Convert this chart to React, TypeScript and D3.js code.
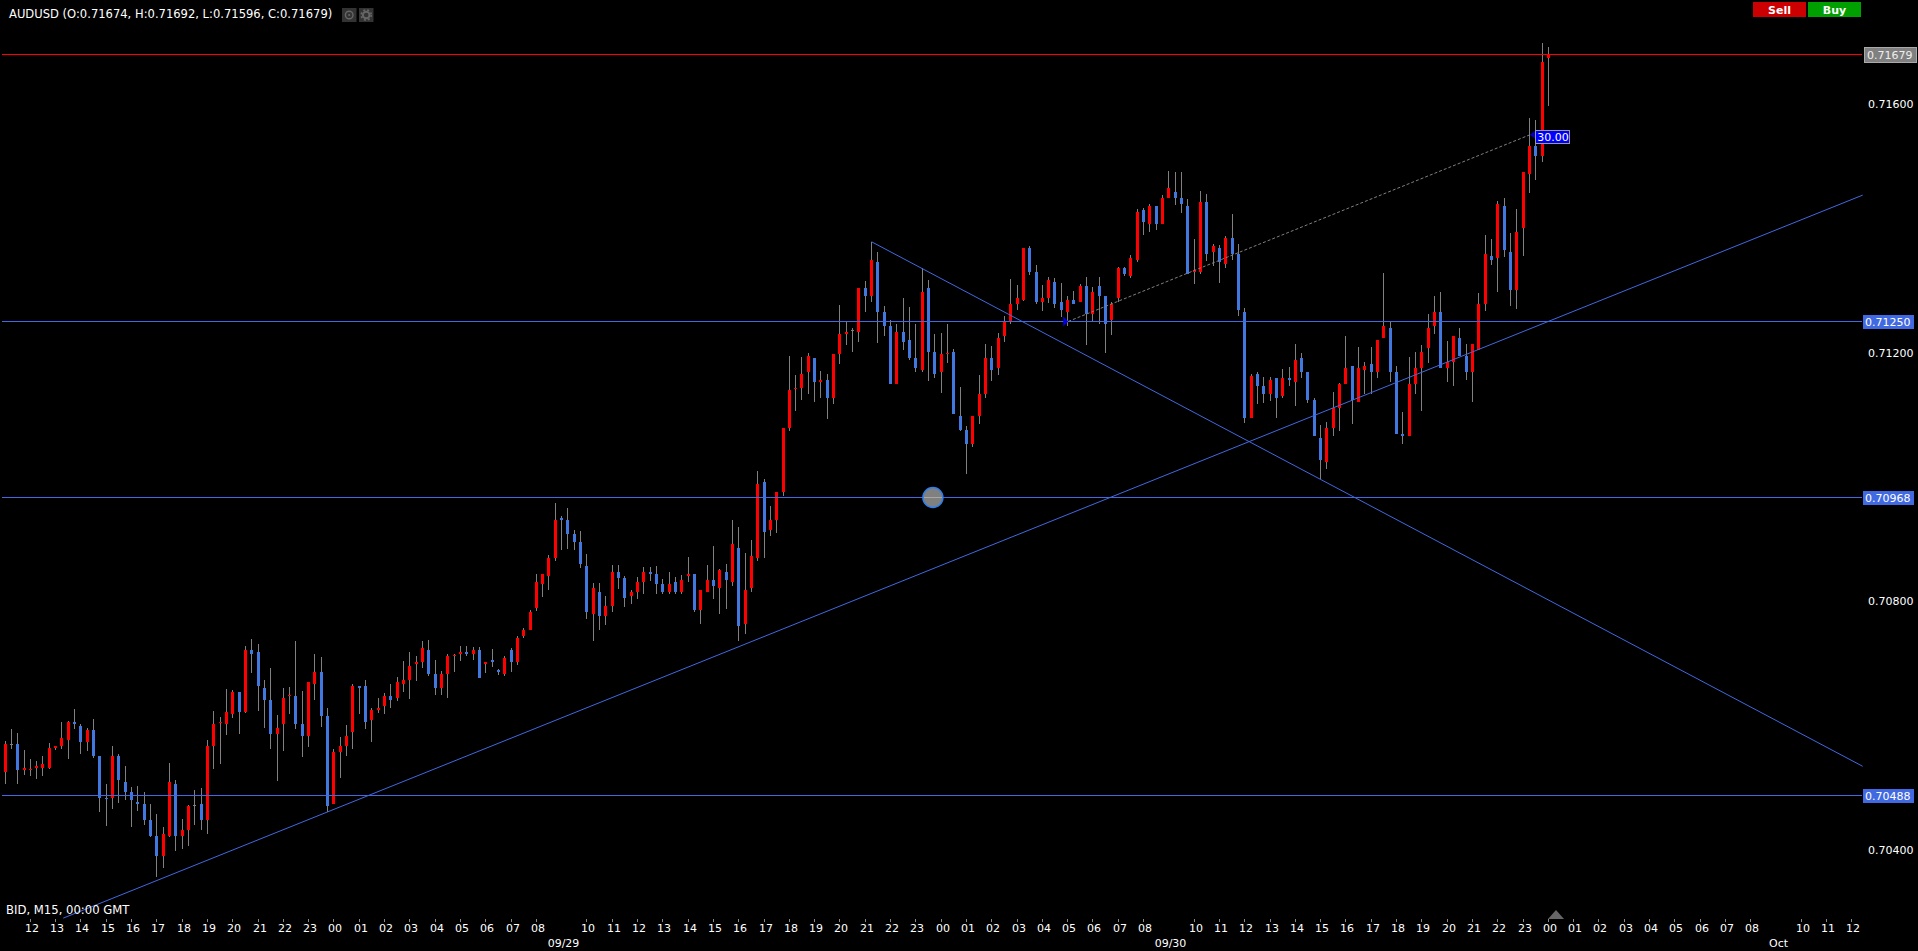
import * as d3 from "d3";
import { useEffect, useRef } from "react";

// prices are kept as points above 0.70000, one entry per 15 minute bar
const opens = [
  524,569,569,527,528,530,530,530,562,566,
  575,604,598,572,591,550,482,482,550,508,
  492,475,472,446,421,388,421,504,421,430,
  470,472,446,566,604,601,617,653,620,720,
  717,659,640,585,601,646,646,601,582,666,
  685,614,472,556,566,588,662,662,608,624,
  630,646,643,666,672,698,701,720,682,659,
  682,711,714,717,714,720,698,704,688,682,
  720,701,743,752,788,827,839,868,933,930,
  907,894,856,778,814,775,791,846,836,807,
  814,830,846,843,827,814,830,814,839,843,
  785,814,833,820,846,830,885,762,820,868,
  991,914,930,975,1078,1142,1142,1168,1191,1152,
  1155,1126,1197,1229,1236,1233,1303,1291,1345,1265,
  1242,1149,1233,1220,1191,1171,1303,1200,1168,1197,
  1200,1097,1075,1052,1097,1133,1191,1175,1226,1249,
  1278,1284,1368,1329,1281,1287,1313,1281,1265,1284,
  1281,1307,1262,1307,1291,1252,1287,1336,1323,1349,
  1429,1407,1436,1407,1449,1458,1449,1436,1330,1330,
  1442,1362,1368,1342,1384,1359,1265,1094,1165,1146,
  1133,1158,1129,1158,1152,1191,1168,1123,1062,1023,
  1078,1110,1149,1178,1120,1171,1181,1168,1223,1239,
  1168,1068,1065,1149,1175,1207,1242,1265,1175,1184,
  1223,1194,1168,1204,1278,1355,1352,1436,1362,1300,
  1400,1487,1532,1516,1674,
];
const highs = [
  573,593,586,559,544,542,550,571,566,604,
  606,625,601,595,609,550,504,566,553,533,
  500,501,492,472,456,435,538,511,448,471,
  495,498,575,622,612,657,656,653,727,738,
  730,672,691,616,659,661,735,654,669,714,
  709,627,561,580,600,666,662,672,627,643,
  651,666,677,703,717,711,735,736,704,686,
  714,714,727,727,725,725,701,722,690,711,
  723,743,756,785,843,843,873,957,936,949,
  914,912,875,828,828,807,857,857,839,817,
  838,854,854,856,835,846,838,841,870,843,
  817,857,888,851,859,930,918,876,897,1009,
  996,952,975,1078,1194,1163,1192,1199,1191,1170,
  1165,1197,1276,1249,1239,1303,1315,1378,1361,1274,
  1252,1245,1287,1273,1245,1336,1316,1229,1231,1245,
  1205,1144,1081,1097,1163,1213,1210,1231,1258,1318,
  1308,1368,1371,1340,1308,1321,1320,1311,1291,1299,
  1310,1321,1305,1321,1291,1281,1337,1337,1357,1431,
  1433,1439,1436,1454,1492,1491,1491,1447,1383,1460,
  1455,1375,1373,1388,1423,1375,1271,1165,1168,1160,
  1160,1158,1173,1176,1213,1199,1168,1126,1083,1088,
  1136,1150,1226,1178,1208,1184,1208,1220,1328,1249,
  1178,1104,1192,1200,1212,1262,1291,1297,1218,1226,
  1239,1213,1213,1295,1389,1382,1444,1449,1392,1431,
  1490,1577,1574,1698,1692,
];
const lows = [
  504,561,504,519,517,512,517,529,559,561,
  545,593,553,558,546,459,437,464,474,479,
  435,461,438,419,355,369,419,397,400,405,
  438,430,424,529,537,583,611,585,619,683,
  622,595,561,509,558,617,593,548,564,640,
  596,459,472,514,550,561,617,593,572,619,
  617,627,638,653,641,670,691,678,648,648,
  643,685,703,711,704,675,683,693,680,678,
  685,696,740,752,783,806,817,864,881,883,
  881,852,770,735,752,761,781,818,789,794,
  802,810,831,810,810,810,810,810,830,781,
  762,814,802,778,786,823,735,746,814,864,
  868,904,909,968,1074,1105,1123,1133,1120,1126,
  1092,1117,1181,1212,1200,1216,1265,1281,1215,1226,
  1149,1149,1204,1187,1168,1168,1154,1158,1134,1183,
  1100,1073,1004,1047,1084,1126,1154,1163,1216,1245,
  1268,1282,1324,1278,1266,1279,1271,1257,1242,1278,
  1281,1212,1250,1245,1199,1228,1281,1323,1320,1346,
  1389,1394,1397,1407,1449,1437,1425,1326,1310,1326,
  1347,1339,1312,1336,1349,1258,1086,1094,1117,1118,
  1121,1094,1126,1146,1113,1158,1118,1065,996,1012,
  1065,1073,1149,1084,1120,1133,1133,1158,1223,1152,
  1068,1052,1065,1133,1105,1183,1229,1175,1152,1146,
  1194,1155,1120,1204,1266,1341,1297,1353,1275,1270,
  1355,1457,1478,1506,1596,
];
const closes = [
  569,569,527,530,529,533,537,562,566,579,
  604,601,572,591,550,482,480,550,511,492,
  479,472,446,421,388,424,508,421,430,469,
  470,446,566,601,605,620,653,620,720,714,
  662,640,585,595,643,648,601,582,669,685,
  614,469,556,566,582,662,659,604,624,627,
  646,640,669,672,695,701,724,682,659,682,
  711,712,717,714,720,675,701,701,685,707,
  701,740,752,781,830,843,868,930,930,907,
  894,859,781,820,775,791,846,836,804,814,
  830,846,843,827,814,827,814,833,843,785,
  817,833,823,849,833,891,759,817,872,988,
  910,930,975,1078,1139,1143,1165,1194,1152,1155,
  1126,1197,1229,1233,1236,1303,1291,1349,1265,1242,
  1149,1233,1216,1191,1175,1297,1200,1165,1197,1199,
  1100,1075,1052,1097,1133,1191,1171,1223,1249,1278,
  1287,1368,1329,1281,1287,1316,1278,1268,1284,1278,
  1307,1262,1297,1291,1245,1278,1336,1326,1352,1426,
  1410,1436,1407,1449,1465,1449,1439,1326,1333,1442,
  1359,1371,1346,1384,1359,1268,1094,1162,1146,1133,
  1155,1126,1158,1155,1187,1168,1123,1065,1026,1078,
  1110,1149,1175,1123,1175,1178,1168,1220,1242,1168,
  1068,1065,1149,1175,1200,1239,1265,1175,1184,1226,
  1194,1168,1213,1278,1358,1349,1439,1365,1300,1394,
  1490,1532,1516,1668,1679,
];

const priceTicks = [0.716, 0.712, 0.708, 0.704];
const levelPrices = [0.7125, 0.70968, 0.70488];
const lastPrice = 0.71679;
const dateLabels: [string, string][] = [
  ["09/29", "2015-09-29T09:00Z"],
  ["09/30", "2015-09-30T09:00Z"],
  ["Oct", "2015-10-01T09:00Z"],
];
// trend lines as [bar number, price] pairs
const risingLine: [number, number][] = [[9.2, 0.70291], [293.7, 0.71453]];
const fallingLine: [number, number][] = [[137, 0.71378], [293.7, 0.70535]];
const measureLine: [number, number][] = [[168.1, 0.7125], [241.1, 0.7155]];
const anchorBar = 146.7;

const FONT = "'DejaVu Sans', sans-serif";
const RED = "#ff0000";
const BLUE = "#4178e0";
const LINE = "#4169e1";
const WICK = "#808080";

export default function App() {
  const ref = useRef<SVGSVGElement>(null);

  useEffect(() => {
    document.body.style.margin = "0";
    document.body.style.background = "#000";
    const svg = d3.select(ref.current);
    svg.selectAll("*").remove();

    const t0 = Date.UTC(2015, 8, 28, 11);
    const timeAt = (i: number) => new Date(t0 + i * 900000);
    const x = d3.scaleUtc()
      .domain([timeAt(0), timeAt(244)])
      .range([4.53, 1547.83])
      .interpolate(d3.interpolateRound);
    const xFine = d3.scaleUtc()
      .domain([timeAt(0), timeAt(244)])
      .range([5.03, 1548.33]);
    const y = d3.scaleLinear().domain([0.704, 0.716]).range([850.3, 103.65]);
    // readings were taken at 1.611 points per pixel, the axis runs slightly tighter
    const price = (pt: number) => 0.7 + (pt - 0.56 + (1600 - pt) * 0.00236) / 1e5;
    const levelRow = (p: number) => Math.round(y(p) - 0.3);

    const bars = opens.map((o, i) => ({
      i, o: price(o), h: price(highs[i]), l: price(lows[i]), c: price(closes[i]),
    }));

    const rightEdge = 1862;

    const trend = d3.line<[number, number]>()
      .x(d => xFine(timeAt(d[0])))
      .y(d => y(d[1]));

    const candles = svg.append("g").attr("shape-rendering", "crispEdges");
    candles.selectAll("rect.wick")
      .data(bars)
      .enter()
      .append("rect")
      .attr("class", "wick")
      .attr("x", d => x(timeAt(d.i)))
      .attr("y", d => Math.round(y(d.h)))
      .attr("width", 1)
      .attr("height", d => Math.max(1, Math.round(y(d.l)) - Math.round(y(d.h))))
      .attr("fill", WICK);
    candles.selectAll("rect.body")
      .data(bars)
      .enter()
      .append("rect")
      .attr("class", "body")
      .attr("x", d => x(timeAt(d.i)) - 1)
      .attr("y", d => Math.round(y(Math.max(d.o, d.c))))
      .attr("width", 3)
      .attr("height", d => Math.max(1, Math.round(y(Math.min(d.o, d.c))) - Math.round(y(Math.max(d.o, d.c)))))
      .attr("fill", d => (d.c > d.o ? RED : d.c < d.o ? BLUE : WICK));

    // horizontal levels
    const levels = svg.append("g").attr("shape-rendering", "crispEdges");
    levels.selectAll("rect")
      .data(levelPrices)
      .enter()
      .append("rect")
      .attr("x", 2)
      .attr("y", d => levelRow(d))
      .attr("width", rightEdge - 2)
      .attr("height", 1)
      .attr("fill", LINE);
    levels.append("rect")
      .attr("x", 2)
      .attr("y", levelRow(lastPrice))
      .attr("width", rightEdge - 2)
      .attr("height", 1)
      .attr("fill", RED);

    [risingLine, fallingLine].forEach(l => {
      svg.append("path")
        .attr("d", trend(l))
        .attr("fill", "none")
        .attr("stroke", LINE)
        .attr("stroke-width", 1);
    });

    // measuring line with its two arrow heads
    svg.append("path")
      .attr("d", trend(measureLine))
      .attr("fill", "none")
      .attr("stroke", "#808080")
      .attr("stroke-width", 1)
      .attr("stroke-dasharray", "3,2");
    const mx0 = xFine(timeAt(measureLine[0][0]));
    const my0 = y(measureLine[0][1]);
    const mx1 = xFine(timeAt(measureLine[1][0]));
    const my1 = y(measureLine[1][1]);
    svg.append("path")
      .attr("d", `M${mx0 - 5},${my0 - 5}L${mx0},${my0}L${mx0 - 5},${my0 + 5}Z`)
      .attr("fill", "#0000e0");
    svg.append("path")
      .attr("d", `M${mx1 + 5},${my1 - 4}L${mx1},${my1}L${mx1 + 5},${my1 + 4}Z`)
      .attr("fill", "#0000c0");
    svg.append("rect")
      .attr("x", mx1 + 6)
      .attr("y", my1 - 4)
      .attr("width", 34)
      .attr("height", 13)
      .attr("fill", "#0000ff")
      .attr("stroke", "#9a9a9a")
      .attr("shape-rendering", "crispEdges");
    svg.append("text")
      .attr("x", mx1 + 23)
      .attr("y", my1 + 6.5)
      .attr("text-anchor", "middle")
      .attr("fill", "#fff")
      .attr("font-family", FONT)
      .attr("font-size", 11)
      .text("30.00");

    // anchor handle on the 0.70968 level
    const cx = xFine(timeAt(anchorBar));
    const cy = levelRow(levelPrices[1]) + 0.5;
    svg.append("circle")
      .attr("cx", cx)
      .attr("cy", cy)
      .attr("r", 10)
      .attr("fill", "#808080")
      .attr("stroke", "#2f7fe8")
      .attr("stroke-width", 1.5);
    svg.append("line")
      .attr("x1", cx - 9)
      .attr("x2", cx + 9)
      .attr("y1", cy)
      .attr("y2", cy)
      .attr("stroke", "#a8a8a8")
      .attr("shape-rendering", "crispEdges");

    // value axis
    const yAxis = svg.append("g")
      .attr("transform", "translate(1868,0)")
      .call(d3.axisRight(y).tickValues(priceTicks).tickSize(0).tickPadding(0).tickFormat(d3.format(".5f") as any));
    yAxis.select(".domain").remove();
    yAxis.selectAll("text").attr("fill", "#fff").attr("font-family", FONT).attr("font-size", 11);

    // price tags on the right
    levelPrices.forEach(p => {
      const py = levelRow(p) + 0.5;
      svg.append("rect")
        .attr("x", 1863)
        .attr("y", py - 7)
        .attr("width", 51)
        .attr("height", 14)
        .attr("fill", LINE)
        .attr("shape-rendering", "crispEdges");
      svg.append("text")
        .attr("x", 1865)
        .attr("y", py + 4)
        .attr("fill", "#fff")
        .attr("font-family", FONT)
        .attr("font-size", 11)
        .text(d3.format(".5f")(p));
    });
    const lastY = levelRow(lastPrice) + 0.5;
    svg.append("rect")
      .attr("x", 1864.5)
      .attr("y", lastY - 7)
      .attr("width", 52)
      .attr("height", 15)
      .attr("fill", "#808080")
      .attr("stroke", "#aaa")
      .attr("shape-rendering", "crispEdges");
    svg.append("text")
      .attr("x", 1867)
      .attr("y", lastY + 4.5)
      .attr("fill", "#eee")
      .attr("font-family", FONT)
      .attr("font-size", 11)
      .text(d3.format(".5f")(lastPrice));

    // time axis, hour 09 is left out where the date goes
    const hours = d3.utcHour.range(new Date(Date.UTC(2015, 8, 28, 12)), new Date(Date.UTC(2015, 9, 1, 13)))
      .filter(d => d.getUTCHours() !== 9);
    const xAxis = svg.append("g")
      .attr("transform", "translate(0,919)")
      .call(d3.axisBottom(x).tickValues(hours).tickSize(3).tickPadding(2).tickFormat(d3.utcFormat("%H") as any));
    xAxis.select(".domain").remove();
    xAxis.selectAll("line").attr("stroke", "#888");
    xAxis.selectAll("text")
      .attr("dx", 1.5)
      .attr("fill", "#fff")
      .attr("font-family", FONT)
      .attr("font-size", 11);

    svg.selectAll("text.date")
      .data(dateLabels)
      .enter()
      .append("text")
      .attr("class", "date")
      .attr("x", d => x(new Date(d[1])) + 2.5)
      .attr("y", 947)
      .attr("text-anchor", "middle")
      .attr("fill", "#fff")
      .attr("font-family", FONT)
      .attr("font-size", 11)
      .text(d => d[0]);

    // marker over the last bar
    svg.append("path")
      .attr("d", "M1548,919L1556,910L1564,919Z")
      .attr("fill", "#666");

    svg.append("text")
      .attr("x", 6)
      .attr("y", 914)
      .attr("fill", "#fff")
      .attr("font-family", FONT)
      .attr("font-size", 11.65)
      .text("BID, M15, 00:00 GMT");

    // header
    svg.append("text")
      .attr("x", 9)
      .attr("y", 18)
      .attr("fill", "#fff")
      .attr("font-family", FONT)
      .attr("font-size", 11.55)
      .text("AUDUSD (O:0.71674, H:0.71692, L:0.71596, C:0.71679)");
    [342, 359].forEach(bx => {
      svg.append("rect")
        .attr("x", bx)
        .attr("y", 8)
        .attr("width", 14.5)
        .attr("height", 14)
        .attr("fill", "#333");
    });
    svg.append("circle").attr("cx", 349.2).attr("cy", 15).attr("r", 3.8)
      .attr("fill", "none").attr("stroke", "#666").attr("stroke-width", 1.4);
    svg.append("circle").attr("cx", 349.2).attr("cy", 15).attr("r", 1.1).attr("fill", "#666");
    svg.append("circle").attr("cx", 366.2).attr("cy", 15).attr("r", 3.3)
      .attr("fill", "none").attr("stroke", "#666").attr("stroke-width", 2);
    svg.append("circle").attr("cx", 366.2).attr("cy", 15).attr("r", 5)
      .attr("fill", "none").attr("stroke", "#666").attr("stroke-width", 1.6).attr("stroke-dasharray", "2,2");

    // trade buttons
    const buttons: [string, number, string][] = [["Sell", 1753, "#cc0000"], ["Buy", 1808, "#00a000"]];
    buttons.forEach(([label, bx, fill]) => {
      svg.append("rect")
        .attr("x", bx)
        .attr("y", 2)
        .attr("width", 53)
        .attr("height", 15)
        .attr("fill", fill);
      svg.append("text")
        .attr("x", bx + 26.5)
        .attr("y", 13.5)
        .attr("text-anchor", "middle")
        .attr("fill", "#fff")
        .attr("font-family", FONT)
        .attr("font-weight", "bold")
        .attr("font-size", 11)
        .text(label);
    });
  }, []);

  return (
    <svg
      ref={ref}
      width={1918}
      height={951}
      style={{ position: "absolute", left: 0, top: 0, display: "block", background: "#000" }}
    />
  );
}
